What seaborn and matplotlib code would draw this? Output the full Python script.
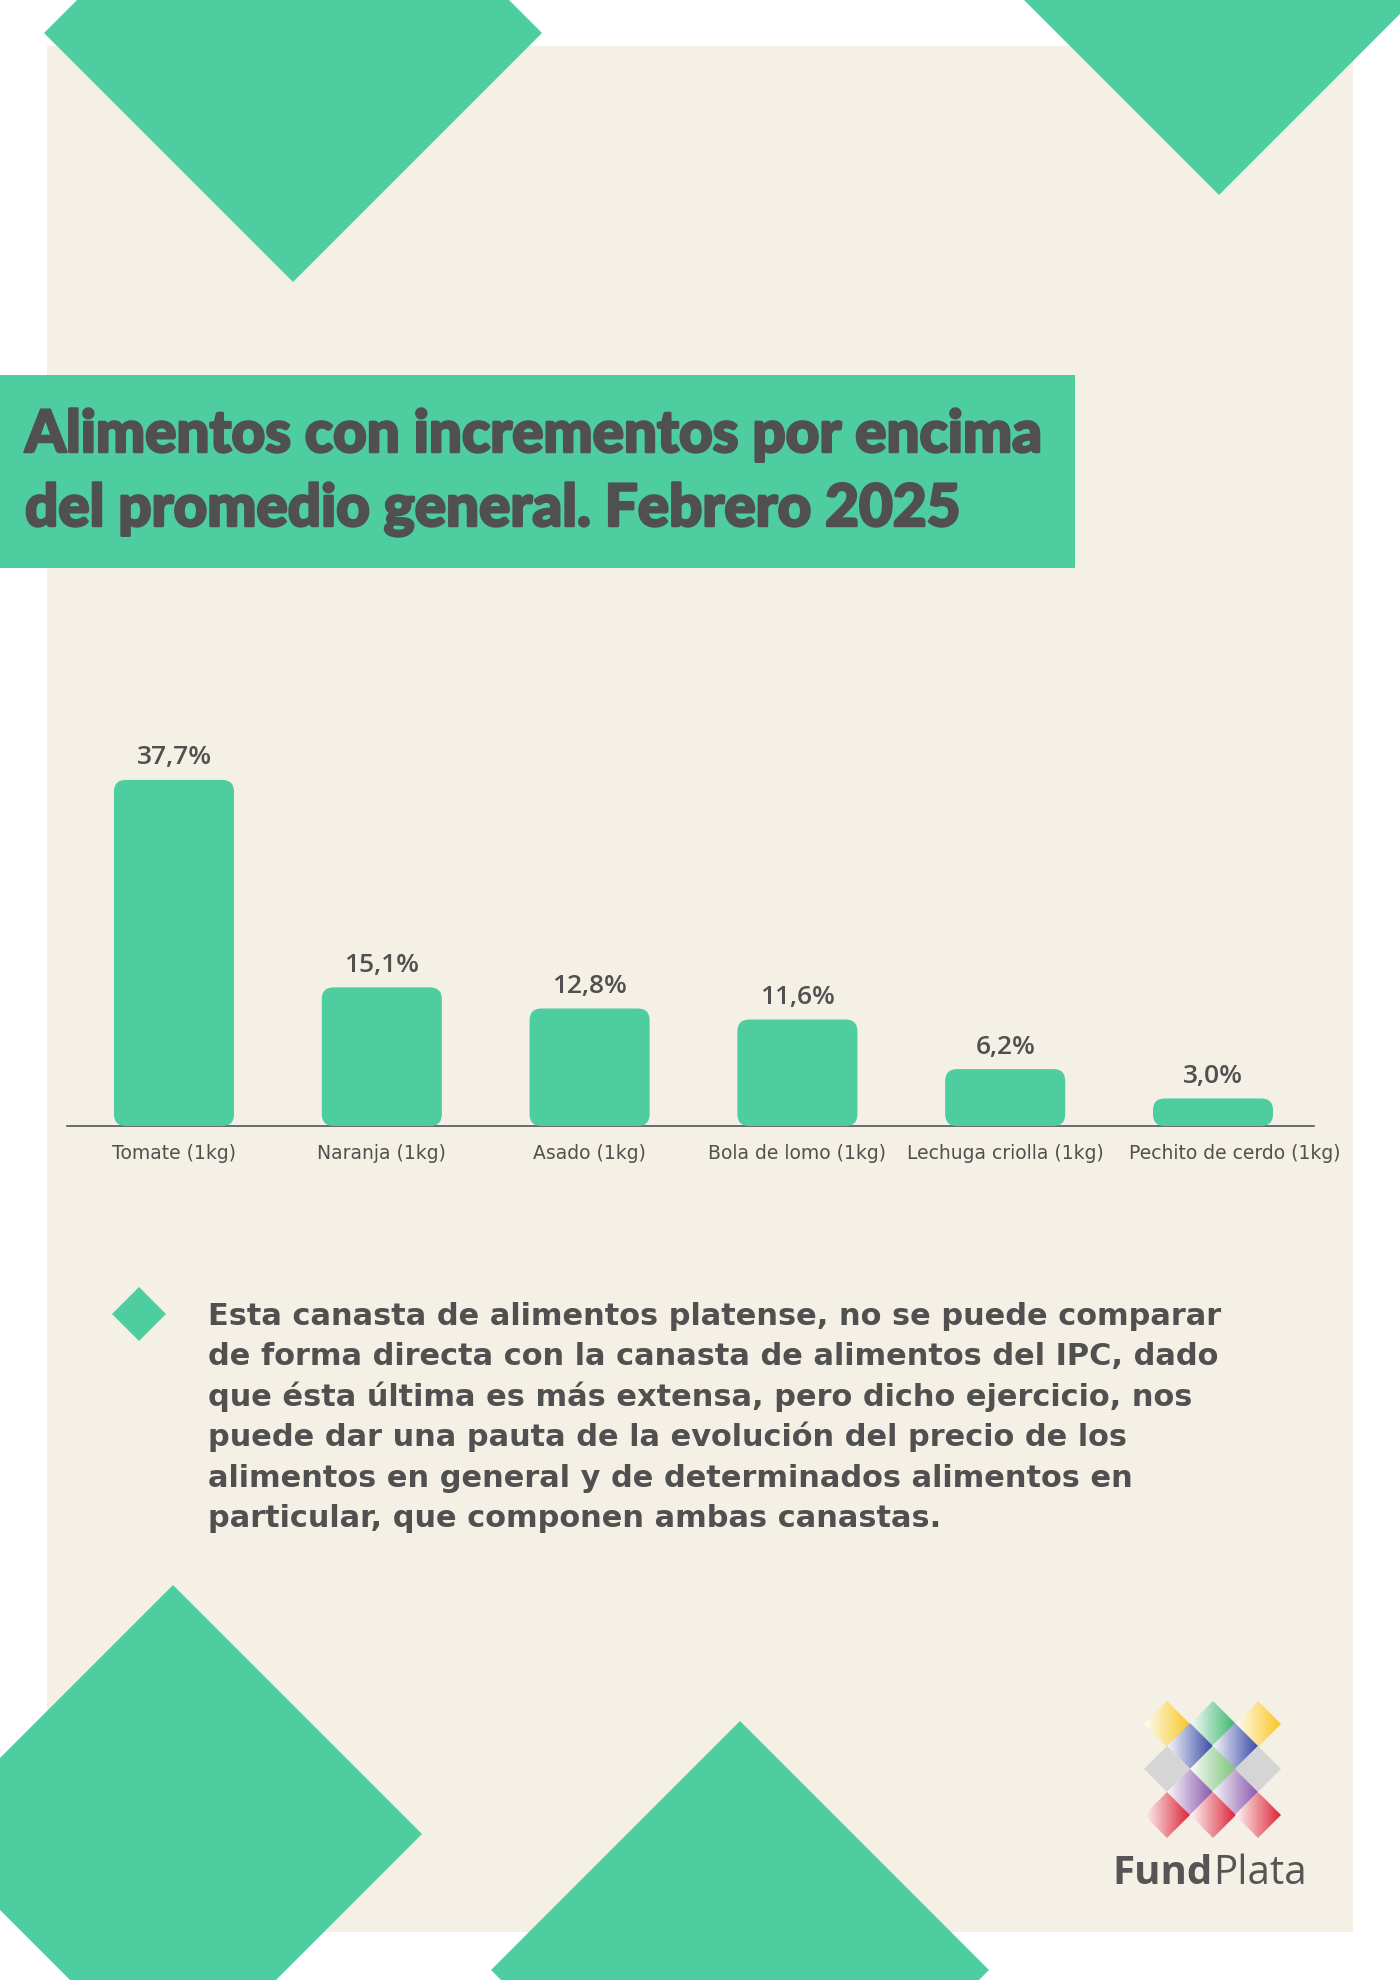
import numpy as np
import matplotlib
matplotlib.use("Agg")
import matplotlib.pyplot as plt
import matplotlib.patheffects as pe
from matplotlib.patches import Polygon, Rectangle, FancyBboxPatch
from matplotlib.colors import LinearSegmentedColormap
from matplotlib.transforms import ScaledTranslation
import seaborn as sns

# datos del grafico
productos = ["Tomate (1kg)", "Naranja (1kg)", "Asado (1kg)", "Bola de lomo (1kg)",
             "Lechuga criolla (1kg)", "Pechito de cerdo (1kg)"]
incrementos = [37.7, 15.1, 12.8, 11.6, 6.2, 3.0]

titulo = ["Alimentos con incrementos por encima",
          "del promedio general. Febrero 2025"]
nota = ["Esta canasta de alimentos platense, no se puede comparar",
        "de forma directa con la canasta de alimentos del IPC, dado",
        "que ésta última es más extensa, pero dicho ejercicio, nos",
        "puede dar una pauta de la evolución del precio de los",
        "alimentos en general y de determinados alimentos en",
        "particular, que componen ambas canastas."]

VERDE = "#4ECDA1"
BEIGE = "#F5F0E5"
GRIS = "#505050"

W, H = 1400, 1981
sns.set_theme(style="white")
plt.rcParams['font.family'] = ['DejaVu Sans']

fig = plt.figure(figsize=(W / 100, H / 100), dpi=100)
fig.patch.set_facecolor("white")

# capa de fondo en pixeles
bg = fig.add_axes([0, 0, 1, 1], zorder=0)
bg.set_xlim(0, W)
bg.set_ylim(H, 0)
bg.axis("off")


def rombo(cx, cy, r, **kw):
    return Polygon([(cx - r, cy), (cx, cy - r), (cx + r, cy), (cx, cy + r)], closed=True, **kw)


bg.add_patch(Rectangle((47, 47), 1306, 1886, color=BEIGE, lw=0, zorder=1))
for cx, cy, r in [(293, 34, 249), (1219, 0, 196), (173, 1835, 249), (740, 1971, 249)]:
    bg.add_patch(rombo(cx, cy, r, color=VERDE, lw=0, zorder=2))

# titulo
bg.add_patch(Rectangle((0, 376), 1075, 193, color=VERDE, lw=0, zorder=3))
for i, linea in enumerate(titulo):
    bg.text(25, 453 + i * 74, linea, fontsize=42, fontweight="black",
            family=["Lato", "DejaVu Sans"], color=GRIS, va="baseline", zorder=4,
            path_effects=[pe.withStroke(linewidth=1.8, foreground=GRIS)])

# nota
bg.add_patch(rombo(139, 1315, 27, color=VERDE, lw=0, zorder=3))
for i, linea in enumerate(nota):
    bg.text(208, 1325 + i * 40.4, linea, fontsize=21.9, fontweight="bold",
            color=GRIS, va="baseline", zorder=4)

# logo
logo = [(1167, 1725, "#F9C623"), (1213, 1725, "#3DB66E"), (1258, 1725, "#F9C623"),
        (1190, 1747, "#3D4DA8"), (1235, 1747, "#3D4DA8"),
        (1167, 1770, None), (1213, 1770, "#7CC37A"), (1258, 1770, None),
        (1190, 1793, "#8A5AAE"), (1235, 1793, "#8A5AAE"),
        (1167, 1816, "#DC2638"), (1213, 1816, "#DC2638"), (1258, 1816, "#DC2638")]
rl = 23
for cx, cy, col in logo:
    if col is None:
        bg.add_patch(rombo(cx, cy, rl, color="#D5D5D5", lw=0, zorder=5))
        continue
    clip = rombo(cx, cy, rl, facecolor="none", edgecolor="none", zorder=5)
    bg.add_patch(clip)
    cmap = LinearSegmentedColormap.from_list("g", ["#FFFFFF", col])
    im = bg.imshow(np.linspace(0.05, 1, 64)[None, :], cmap=cmap, aspect="auto",
                   vmin=0, vmax=1, extent=[cx - rl, cx + rl, cy + rl, cy - rl], zorder=5)
    im.set_clip_path(clip)
bg.set_xlim(0, W)
bg.set_ylim(H, 0)

bg.text(1213, 1884, "Fund", fontsize=29, fontweight="bold", family=["Open Sans", "DejaVu Sans"],
        color="#555555", ha="right", va="baseline", zorder=6)
bg.text(1213, 1884, "Plata", fontsize=29, family=["Open Sans", "DejaVu Sans"],
        color="#555555", ha="left", va="baseline", zorder=6)

# grafico de barras
x0, x1 = 67, 1314
base, top = 1127, 700
paso = 207.8
px_y = 9.18
ax = fig.add_axes([x0 / W, 1 - base / H, (x1 - x0) / W, (base - top) / H], zorder=2)
ax.set_facecolor("none")
sns.barplot(x=productos, y=incrementos, ax=ax, color=VERDE, saturation=1, width=0.578)
ax.set_xlim(-(174 - x0) / paso, 5 + (x1 - 1213) / paso)
ax.set_ylim(0, (base - top) / px_y)

radio = 12
rx = radio / paso
ry = radio / px_y
for p in ax.patches[:]:
    p.set_visible(False)
    ax.add_patch(FancyBboxPatch((p.get_x(), p.get_y()), p.get_width(), p.get_height(),
                                boxstyle=f"round,pad=0,rounding_size={rx}",
                                mutation_aspect=ry / rx, color=VERDE, lw=0, zorder=3))

etiquetas = [f"{v:.1f}%".replace(".", ",") for v in incrementos]
ax.bar_label(ax.containers[0], labels=etiquetas, padding=7.5, fontsize=19,
             fontweight="semibold", family=["Open Sans", "DejaVu Sans"], color=GRIS)

for s in ["top", "left", "right"]:
    ax.spines[s].set_visible(False)
ax.spines["bottom"].set_color("#555555")
ax.spines["bottom"].set_linewidth(1.2)
ax.set_yticks([])
ax.set_xlabel("")
ax.set_ylabel("")
ax.tick_params(axis="x", length=0, pad=12.5, labelsize=13.5, labelcolor=GRIS)

# la ultima etiqueta va corrida a la derecha, como en el original
ult = ax.get_xticklabels()[-1]
ult.set_transform(ult.get_transform() + ScaledTranslation(0.22, 0, fig.dpi_scale_trans))

fig.savefig("out.png", dpi=100, facecolor="white")
